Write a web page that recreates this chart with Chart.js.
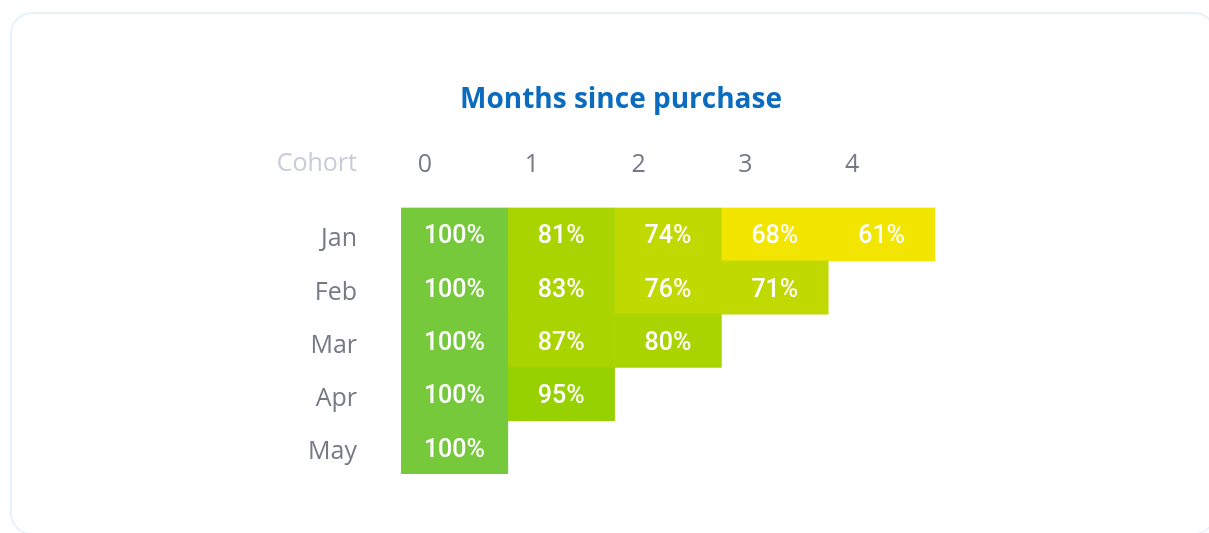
<!DOCTYPE html>
<html>
<head>
<meta charset="utf-8">
<script src="https://cdn.jsdelivr.net/npm/chart.js@4.4.1/dist/chart.umd.min.js"></script>
<style>
  html, body { margin: 0; padding: 0; background: #fff; overflow: hidden; }
  .card {
    position: absolute; left: 10px; top: 12px; width: 1206px; height: 523px;
    border: 2px solid #e6f3fc; border-radius: 22px; box-sizing: border-box;
  }
  #cohort { position: absolute; left: 0; top: 0; }
</style>
</head>
<body>
<div class="card"></div>
<canvas id="cohort" width="1209" height="533"></canvas>
<script>
// cohorts (rows) and months since purchase (columns)
const cohorts = ["Jan", "Feb", "Mar", "Apr", "May"];
const periodos = ["0", "1", "2", "3", "4"];

// retention % per column, one value per cohort (null = not yet)
const mes0 = [100, 100, 100, 100, 100];
const mes1 = [81, 83, 87, 95, null];
const mes2 = [74, 76, 80, null, null];
const mes3 = [68, 71, null, null, null];
const mes4 = [61, null, null, null, null];
const columnas = [mes0, mes1, mes2, mes3, mes4];

function colorFor(v) {
  if (v >= 100) return "#76c93a";
  if (v >= 90) return "#97d100";
  if (v >= 78) return "#aad400";
  if (v >= 70) return "#c0d900";
  return "#f2e500";
}

const datasets = columnas.map((col, j) => ({
  label: periodos[j],
  // floating bar from column j to j+1
  data: col.map((v) => (v == null ? null : [j, j + 1])),
  backgroundColor: (ctx) => colorFor(col[ctx.dataIndex]),
  borderWidth: 0,
  barPercentage: 1,
  categoryPercentage: 1,
  grouped: false,
}));

const textosCeldas = {
  id: "textosCeldas",
  afterDatasetsDraw: (chart) => {
    const ctx = chart.ctx;
    ctx.save();
    ctx.fillStyle = "#ffffff";
    ctx.font = "500 25px Roboto";
    ctx.textAlign = "center";
    ctx.textBaseline = "middle";
    chart.data.datasets.forEach((ds, j) => {
      const meta = chart.getDatasetMeta(j);
      meta.data.forEach((el, i) => {
        const v = columnas[j][i];
        if (v == null) return;
        ctx.fillText(v + "%", (el.x + el.base) / 2, el.y + 3);
      });
    });
    // "Cohort" header above the row labels
    const x = chart.scales.x;
    const y = chart.scales.y;
    ctx.fillStyle = "#c8ccd6";
    ctx.font = "400 25px 'Open Sans'";
    ctx.textAlign = "right";
    ctx.fillText("Cohort", y.right - 44, x.bottom - 44);
    ctx.restore();
  },
};

new Chart(document.getElementById("cohort").getContext("2d"), {
  type: "bar",
  data: { labels: cohorts, datasets: datasets },
  options: {
    indexAxis: "y",
    responsive: false,
    animation: false,
    layout: { padding: { left: 307, right: 274, top: 62, bottom: 59 } },
    plugins: {
      legend: { display: false },
      tooltip: { enabled: false },
      title: {
        display: true,
        text: "Months since purchase",
        color: "#0b6cbf",
        font: { family: "'Open Sans'", size: 28, weight: "bold" },
        padding: { top: 21, bottom: 9 },
      },
    },
    scales: {
      x: {
        type: "linear",
        position: "top",
        min: 0,
        max: 5,
        grid: { display: false },
        border: { display: false },
        afterFit: (scale) => {
          scale.height = 82;
        },
        ticks: {
          stepSize: 1,
          autoSkip: false,
          maxRotation: 0,
          padding: 20,
          labelOffset: 24,
          color: "#757a85",
          font: { family: "'Open Sans'", size: 25, weight: 400 },
          callback: (value) => (value < periodos.length ? periodos[value] : ""),
        },
      },
      y: {
        grid: { display: false },
        border: { display: false },
        afterFit: (scale) => {
          scale.width = 94;
        },
        ticks: {
          padding: 36,
          labelOffset: 5,
          color: "#757a85",
          font: { family: "'Open Sans'", size: 25, weight: 400 },
        },
      },
    },
  },
  plugins: [textosCeldas],
});
</script>
</body>
</html>
